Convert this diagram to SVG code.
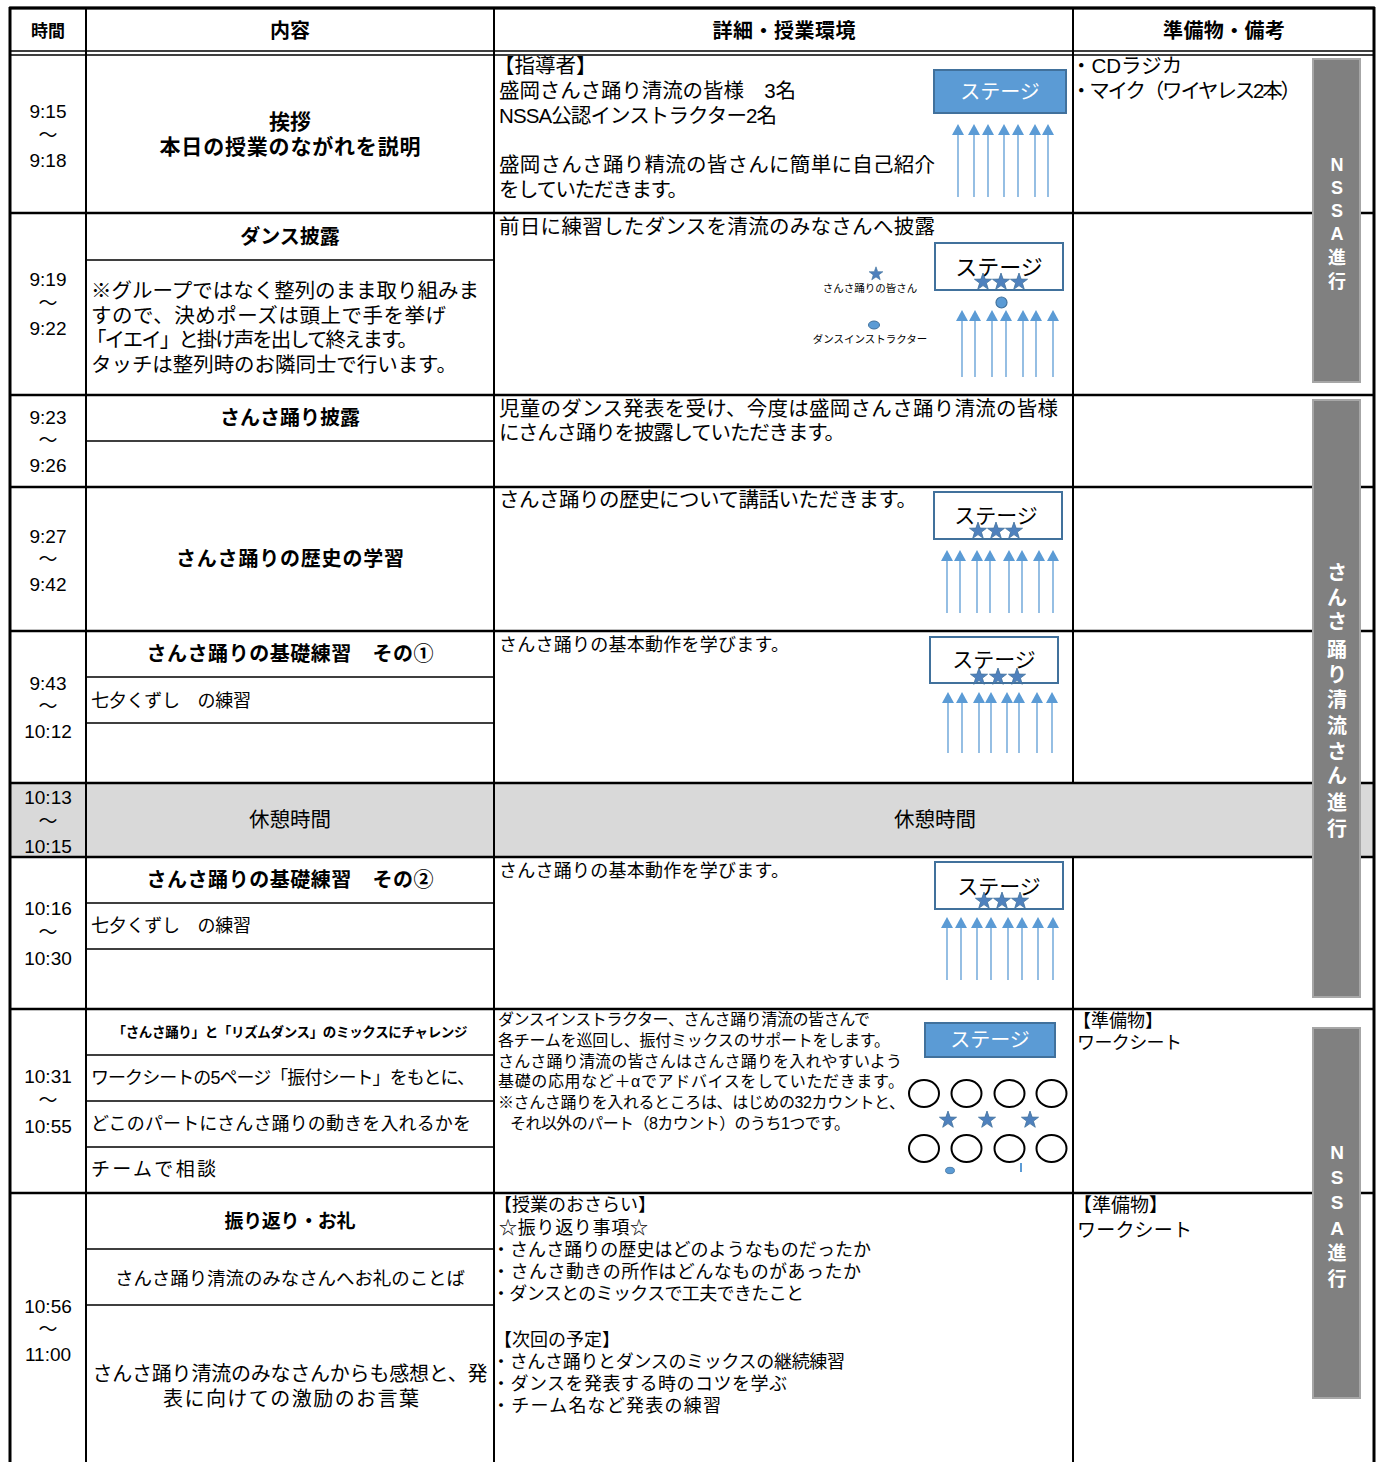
<svg xmlns="http://www.w3.org/2000/svg" xmlns:xlink="http://www.w3.org/1999/xlink" width="1383" height="1462" viewBox="0 0 1383 1462">
<style>
text{font-family:"Liberation Sans","Noto Sans CJK JP",sans-serif;fill:#000}
.tm{font-size:19px;text-anchor:middle}
.h{font-size:20px;font-weight:700;text-anchor:middle}
.b{font-size:20px;font-weight:700;text-anchor:middle}
.n20{font-size:20.5px}
.n18{font-size:18px}
.n16{font-size:16px}
.c{text-anchor:middle}
.side{font-size:19px;font-weight:700;fill:#fff;text-anchor:middle}
.thick{stroke:#000;stroke-width:2.5;fill:none}
.thin{stroke:#000;stroke-width:1.5;fill:none}
.bar{fill:#808080;stroke:#a6a6a6;stroke-width:2}
.stg{fill:#fff;stroke:#41719c;stroke-width:2}
.stgb{fill:#5b9bd5;stroke:#41719c;stroke-width:2}
.st{fill:#4f81bd;stroke:#41719c;stroke-width:0.8}
.al{stroke:#5b9bd5;stroke-width:1.6;fill:none;opacity:0.8}
.ah{fill:#5b9bd5}
.circ{fill:#fff;stroke:#000;stroke-width:2}
.wt{fill:#fff;font-size:20px;text-anchor:middle}
.bk{font-size:21px;text-anchor:middle}
</style>
<defs>
<path id="star" d="M0,-9 L2.12,-2.91 L8.56,-2.78 L3.42,1.11 L5.29,7.28 L0,3.6 L-5.29,7.28 L-3.42,1.11 L-8.56,-2.78 L-2.12,-2.91 Z"/>
<path id="hd" d="M-6,11 L0,0 L6,11 Z"/>
</defs>
<rect width="1383" height="1462" fill="#fff"/>

<g id="backgrounds">
<rect x="10" y="783" width="1364" height="74" fill="#d9d9d9"/>
</g>

<g id="grid">
<path class="thick" d="M10,8 H1374 M10,213 H1374 M10,395 H1374 M10,487 H1374 M10,631 H1374 M10,783 H1374 M10,857 H1374 M10,1009 H1374 M10,1193 H1374"/>
<path class="thin" d="M10,51 H1374 M10,55 H1374"/>
<path stroke="#000" stroke-width="3" fill="none" d="M10,7 V1462 M1374,7 V1462 M9,8 H1375"/>
<path stroke="#000" stroke-width="2" fill="none" d="M86,8 V1462 M494,8 V1462 M1073,8 V783 M1073,857 V1462"/>
<path class="thin" d="M86,260 H494 M86,441 H494 M86,677 H494 M86,723 H494 M86,903 H494 M86,949 H494 M86,1055 H494 M86,1101 H494 M86,1147 H494 M86,1249 H494 M86,1305 H494"/>
</g>

<g id="header">
<text x="48" y="37" style="font-size:17px;font-weight:700;text-anchor:middle">時間</text>
<text x="290" y="38" class="h">内容</text>
<text x="784" y="38" class="h" textLength="143">詳細・授業環境</text>
<text x="1224" y="38" class="h" textLength="122">準備物・備考</text>
</g>

<g id="row1">
<text class="tm" x="48" y="118">9:15</text>
<text class="tm" x="48" y="142">～</text>
<text class="tm" x="48" y="167">9:18</text>
<text class="b" x="290" y="129" style="font-size:21px">挨拶</text>
<text class="b" x="290" y="154" style="font-size:21px" textLength="261">本日の授業のながれを説明</text>
<text class="n20" x="494" y="73">【指導者】</text>
<text class="n20" x="499" y="98" textLength="297">盛岡さんさ踊り清流の皆様　3名</text>
<text class="n20" x="499" y="123" textLength="278">NSSA公認インストラクター2名</text>
<text class="n20" x="499" y="172" textLength="436">盛岡さんさ踊り精流の皆さんに簡単に自己紹介</text>
<text class="n20" x="499" y="197" textLength="189">をしていただきます。</text>
<text class="n20" x="1071" y="73">・CDラジカ</text>
<text class="n20" x="1071" y="98" textLength="230">・マイク（ワイヤレス2本）</text>
</g>

<g id="stage1">
<rect class="stgb" x="934" y="70" width="132" height="43"/>
<text class="wt" x="1000" y="99">ステージ</text>
<path class="al" d="M958,134 V197 M974,134 V197 M988,134 V197 M1004,134 V197 M1018,134 V197 M1035,134 V197 M1048,134 V197"/>
<g class="ah"><use xlink:href="#hd" x="958" y="124"/><use xlink:href="#hd" x="974" y="124"/><use xlink:href="#hd" x="988" y="124"/><use xlink:href="#hd" x="1004" y="124"/><use xlink:href="#hd" x="1018" y="124"/><use xlink:href="#hd" x="1035" y="124"/><use xlink:href="#hd" x="1048" y="124"/></g>
</g>

<g id="row2">
<text class="tm" x="48" y="286">9:19</text>
<text class="tm" x="48" y="310">～</text>
<text class="tm" x="48" y="335">9:22</text>
<text class="b" x="290" y="244">ダンス披露</text>
<text class="n20" x="91" y="298" textLength="388">※グループではなく整列のまま取り組みま</text>
<text class="n20" x="91" y="323" textLength="355">すので、決めポーズは頭上で手を挙げ</text>
<text class="n20" x="86" y="347" textLength="332">「イエイ」と掛け声を出して終えます。</text>
<text class="n20" x="91" y="372" textLength="366">タッチは整列時のお隣同士で行います。</text>
<text class="n20" x="499" y="234" textLength="436">前日に練習したダンスを清流のみなさんへ披露</text>
</g>

<g id="stage2">
<use xlink:href="#star" class="st" x="876" y="274" transform="translate(876 274) scale(0.8) translate(-876 -274)"/>
<text class="c" x="870" y="292" style="font-size:10.5px">さんさ踊りの皆さん</text>
<ellipse cx="874" cy="325" rx="5.5" ry="4" fill="#5b9bd5" stroke="#41719c" stroke-width="1"/>
<text class="c" x="870" y="343" style="font-size:10.5px">ダンスインストラクター</text>
<rect class="stg" x="935" y="243" width="128" height="47"/>
<text class="bk" x="999" y="275" style="font-size:22px">ステージ</text>
<use xlink:href="#star" class="st" x="983" y="282"/>
<use xlink:href="#star" class="st" x="1001" y="282"/>
<use xlink:href="#star" class="st" x="1019" y="282"/>
<circle cx="1001.5" cy="302.5" r="5.5" fill="#5b9bd5" stroke="#41719c" stroke-width="1.2"/>
<path class="al" d="M962,320 V377 M975,320 V377 M992,320 V377 M1006,320 V377 M1023,320 V377 M1036,320 V377 M1053,320 V377"/>
<g class="ah"><use xlink:href="#hd" x="962" y="310"/><use xlink:href="#hd" x="975" y="310"/><use xlink:href="#hd" x="992" y="310"/><use xlink:href="#hd" x="1006" y="310"/><use xlink:href="#hd" x="1023" y="310"/><use xlink:href="#hd" x="1036" y="310"/><use xlink:href="#hd" x="1053" y="310"/></g>
</g>

<g id="row3">
<text class="tm" x="48" y="424">9:23</text>
<text class="tm" x="48" y="447">～</text>
<text class="tm" x="48" y="472">9:26</text>
<text class="b" x="290" y="425">さんさ踊り披露</text>
<text class="n20" x="499" y="416" textLength="559">児童のダンス発表を受け、今度は盛岡さんさ踊り清流の皆様</text>
<text class="n20" x="499" y="440" textLength="346">にさんさ踊りを披露していただきます。</text>
</g>

<g id="row4">
<text class="tm" x="48" y="543">9:27</text>
<text class="tm" x="48" y="566">～</text>
<text class="tm" x="48" y="591">9:42</text>
<text class="b" x="290" y="566" textLength="228">さんさ踊りの歴史の学習</text>
<text class="n20" x="499" y="507" textLength="418">さんさ踊りの歴史について講話いただきます。</text>
</g>

<g id="stage4">
<rect class="stg" x="934" y="492" width="128" height="47"/>
<text class="bk" x="996" y="523">ステージ</text>
<use xlink:href="#star" class="st" x="978" y="531"/>
<use xlink:href="#star" class="st" x="996" y="531"/>
<use xlink:href="#star" class="st" x="1014" y="531"/>
<path class="al" d="M947,561 V613 M960,561 V613 M977,561 V613 M990,561 V613 M1009,561 V613 M1022,561 V613 M1039,561 V613 M1053,561 V613"/>
<g class="ah"><use xlink:href="#hd" x="947" y="550"/><use xlink:href="#hd" x="960" y="550"/><use xlink:href="#hd" x="977" y="550"/><use xlink:href="#hd" x="990" y="550"/><use xlink:href="#hd" x="1009" y="550"/><use xlink:href="#hd" x="1022" y="550"/><use xlink:href="#hd" x="1039" y="550"/><use xlink:href="#hd" x="1053" y="550"/></g>
</g>

<g id="row5">
<text class="tm" x="48" y="690">9:43</text>
<text class="tm" x="48" y="713">～</text>
<text class="tm" x="48" y="738">10:12</text>
<text class="b" x="290" y="661" textLength="287">さんさ踊りの基礎練習　その①</text>
<text class="n18" x="91" y="707" textLength="160">七夕くずし　の練習</text>
<text class="n18" x="499" y="651" textLength="290">さんさ踊りの基本動作を学びます。</text>
</g>

<g id="stage5">
<rect class="stg" x="930" y="637" width="128" height="46"/>
<text class="bk" x="994" y="667">ステージ</text>
<use xlink:href="#star" class="st" x="979" y="677"/>
<use xlink:href="#star" class="st" x="998" y="677"/>
<use xlink:href="#star" class="st" x="1017" y="677"/>
<path class="al" d="M948,703 V753 M962,703 V753 M979,703 V753 M991,703 V753 M1007,703 V753 M1019,703 V753 M1037,703 V753 M1052,703 V753"/>
<g class="ah"><use xlink:href="#hd" x="948" y="692"/><use xlink:href="#hd" x="962" y="692"/><use xlink:href="#hd" x="979" y="692"/><use xlink:href="#hd" x="991" y="692"/><use xlink:href="#hd" x="1007" y="692"/><use xlink:href="#hd" x="1019" y="692"/><use xlink:href="#hd" x="1037" y="692"/><use xlink:href="#hd" x="1052" y="692"/></g>
</g>

<g id="row6">
<text class="tm" x="48" y="804">10:13</text>
<text class="tm" x="48" y="828">～</text>
<text class="tm" x="48" y="853">10:15</text>
<text class="n20 c" x="290" y="827">休憩時間</text>
<text class="n20 c" x="935" y="827">休憩時間</text>
</g>

<g id="row7">
<text class="tm" x="48" y="915">10:16</text>
<text class="tm" x="48" y="939">～</text>
<text class="tm" x="48" y="965">10:30</text>
<text class="b" x="290" y="887" textLength="287">さんさ踊りの基礎練習　その②</text>
<text class="n18" x="91" y="932" textLength="160">七夕くずし　の練習</text>
<text class="n18" x="499" y="877" textLength="290">さんさ踊りの基本動作を学びます。</text>
</g>

<g id="stage7">
<rect class="stg" x="935" y="862" width="128" height="47"/>
<text class="bk" x="999" y="894">ステージ</text>
<use xlink:href="#star" class="st" x="984" y="901"/>
<use xlink:href="#star" class="st" x="1002" y="901"/>
<use xlink:href="#star" class="st" x="1020" y="901"/>
<path class="al" d="M947,928 V980 M961,928 V980 M977,928 V980 M991,928 V980 M1008,928 V980 M1022,928 V980 M1038,928 V980 M1053,928 V980"/>
<g class="ah"><use xlink:href="#hd" x="947" y="917"/><use xlink:href="#hd" x="961" y="917"/><use xlink:href="#hd" x="977" y="917"/><use xlink:href="#hd" x="991" y="917"/><use xlink:href="#hd" x="1008" y="917"/><use xlink:href="#hd" x="1022" y="917"/><use xlink:href="#hd" x="1038" y="917"/><use xlink:href="#hd" x="1053" y="917"/></g>
</g>

<g id="row8">
<text class="tm" x="48" y="1083">10:31</text>
<text class="tm" x="48" y="1107">～</text>
<text class="tm" x="48" y="1133">10:55</text>
<text class="b" x="290" y="1037" style="font-size:13.5px" textLength="355">「さんさ踊り」と「リズムダンス」のミックスにチャレンジ</text>
<text class="n18" x="91" y="1084" textLength="384">ワークシートの5ページ「振付シート」をもとに、</text>
<text class="n18" x="91" y="1130" textLength="380">どこのパートにさんさ踊りの動きを入れるかを</text>
<text class="n18" x="91" y="1176" style="font-size:19px" textLength="125">チームで相談</text>
<text class="n16" x="498" y="1025" textLength="372">ダンスインストラクター、さんさ踊り清流の皆さんで</text>
<text class="n16" x="498" y="1046" textLength="392">各チームを巡回し、振付ミックスのサポートをします。</text>
<text class="n16" x="498" y="1067" textLength="404">さんさ踊り清流の皆さんはさんさ踊りを入れやすいよう</text>
<text class="n16" x="498" y="1087" textLength="406">基礎の応用など＋αでアドバイスをしていただきます。</text>
<text class="n16" x="498" y="1108" textLength="407">※さんさ踊りを入れるところは、はじめの32カウントと、</text>
<text class="n16" x="510" y="1129" textLength="340">それ以外のパート（8カウント）のうち1つです。</text>
<text class="n18" x="1073" y="1027">【準備物】</text>
<text class="n18" x="1077" y="1049" textLength="105">ワークシート</text>
</g>

<g id="stage8">
<rect class="stgb" x="925" y="1023" width="130" height="34"/>
<text class="wt" x="990" y="1047">ステージ</text>
<ellipse class="circ" cx="924" cy="1093.5" rx="15" ry="13.5"/>
<ellipse class="circ" cx="966.5" cy="1093.5" rx="15" ry="13.5"/>
<ellipse class="circ" cx="1009.5" cy="1093.5" rx="15" ry="13.5"/>
<ellipse class="circ" cx="1051.5" cy="1093.5" rx="15" ry="13.5"/>
<use xlink:href="#star" class="st" x="948" y="1120"/>
<use xlink:href="#star" class="st" x="987" y="1120"/>
<use xlink:href="#star" class="st" x="1030" y="1120"/>
<ellipse class="circ" cx="924" cy="1148.5" rx="15" ry="13.5"/>
<ellipse class="circ" cx="966.5" cy="1148.5" rx="15" ry="13.5"/>
<ellipse class="circ" cx="1009.5" cy="1148.5" rx="15" ry="13.5"/>
<ellipse class="circ" cx="1051.5" cy="1148.5" rx="15" ry="13.5"/>
<ellipse cx="950" cy="1170.5" rx="4.5" ry="3.2" fill="#5b9bd5" stroke="#41719c" stroke-width="0.8"/>
<path d="M1021,1163 V1172" stroke="#5b9bd5" stroke-width="2"/>
</g>

<g id="row9">
<text class="tm" x="48" y="1313">10:56</text>
<text class="tm" x="48" y="1336">～</text>
<text class="tm" x="48" y="1361">11:00</text>
<text class="b" x="290" y="1228" style="font-size:19px" textLength="131">振り返り・お礼</text>
<text class="c" x="290" y="1285" style="font-size:18.5px" textLength="350">さんさ踊り清流のみなさんへお礼のことば</text>
<text class="n20 c" x="290" y="1381" style="font-size:20px" textLength="395">さんさ踊り清流のみなさんからも感想と、発</text>
<text class="n20 c" x="291" y="1406" style="font-size:20px" textLength="256">表に向けての激励のお言葉</text>
<text class="n18" x="494" y="1211">【授業のおさらい】</text>
<text class="n18" x="499" y="1234" textLength="149">☆振り返り事項☆</text>
<text class="n18" x="492" y="1256" textLength="379">・さんさ踊りの歴史はどのようなものだったか</text>
<text class="n18" x="492" y="1278" textLength="369">・さんさ動きの所作はどんなものがあったか</text>
<text class="n18" x="492" y="1300" textLength="312">・ダンスとのミックスで工夫できたこと</text>
<text class="n18" x="494" y="1346">【次回の予定】</text>
<text class="n18" x="492" y="1368" textLength="353">・さんさ踊りとダンスのミックスの継続練習</text>
<text class="n18" x="492" y="1390" textLength="295">・ダンスを発表する時のコツを学ぶ</text>
<text class="n18" x="492" y="1412" textLength="229">・チーム名など発表の練習</text>
<text class="n20" x="1073" y="1212" style="font-size:19px">【準備物】</text>
<text class="n20" x="1077" y="1237" style="font-size:19px" textLength="115">ワークシート</text>
</g>

<g id="sidebar1">
<rect class="bar" x="1313" y="59" width="47" height="323"/>
<text class="side" x="1337" y="171" style="font-size:18px">N</text>
<text class="side" x="1337" y="194" style="font-size:18px">S</text>
<text class="side" x="1337" y="217" style="font-size:18px">S</text>
<text class="side" x="1337" y="240" style="font-size:18px">A</text>
<text class="side" x="1337" y="264" style="font-size:18px">進</text>
<text class="side" x="1337" y="288" style="font-size:18px">行</text>
</g>

<g id="sidebar2">
<rect class="bar" x="1313" y="400" width="47" height="597"/>
<text class="side" x="1337" y="580" style="font-size:20px">さ</text>
<text class="side" x="1337" y="605" style="font-size:20px">ん</text>
<text class="side" x="1337" y="629" style="font-size:20px">さ</text>
<text class="side" x="1337" y="657" style="font-size:20px">踊</text>
<text class="side" x="1337" y="682" style="font-size:20px">り</text>
<text class="side" x="1337" y="707" style="font-size:20px">清</text>
<text class="side" x="1337" y="733" style="font-size:20px">流</text>
<text class="side" x="1337" y="759" style="font-size:20px">さ</text>
<text class="side" x="1337" y="783" style="font-size:20px">ん</text>
<text class="side" x="1337" y="810" style="font-size:20px">進</text>
<text class="side" x="1337" y="836" style="font-size:20px">行</text>
</g>

<g id="sidebar3">
<rect class="bar" x="1313" y="1028" width="47" height="370"/>
<text class="side" x="1337" y="1159">N</text>
<text class="side" x="1337" y="1184">S</text>
<text class="side" x="1337" y="1209">S</text>
<text class="side" x="1337" y="1235">A</text>
<text class="side" x="1337" y="1260">進</text>
<text class="side" x="1337" y="1286">行</text>
</g>
</svg>
